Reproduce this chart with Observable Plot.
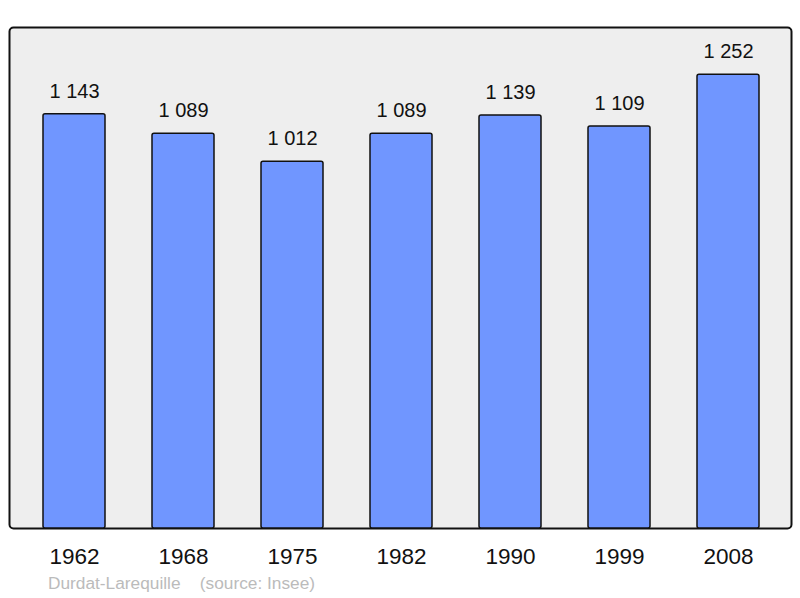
<!DOCTYPE html>
<html>
<head>
<meta charset="utf-8">
<script src="https://cdn.jsdelivr.net/npm/d3@7"></script>
<script src="https://cdn.jsdelivr.net/npm/@observablehq/plot@0.6"></script>
<style>
  body { margin: 0; background: #fff; font-family: "Liberation Sans", Arial, sans-serif; }
  #cap { padding-left: 48px; font-size: 17.3px; color: #bbbbbb; line-height: 22px; white-space: pre; }
</style>
</head>
<body>
<div id="chart"></div>
<div id="cap"></div>
<script>
const years = ["1962", "1968", "1975", "1982", "1990", "1999", "2008"];
const population = [1143, 1089, 1012, 1089, 1139, 1109, 1252];
const captionText = "Durdat-Larequille    (source: Insee)";

const data = years.map((y, i) => ({year: y, pop: population[i]}));
const fmt = d3.formatLocale({thousands: " ", grouping: [3], decimal: ",", currency: ["", ""]}).format(",d");

const chart = Plot.plot({
  width: 800,
  height: 572,
  marginLeft: 9,
  marginRight: 9,
  marginTop: 27,
  marginBottom: 44,
  style: {fontFamily: "Liberation Sans, Arial, sans-serif", background: "#fff"},
  x: {domain: years, range: [16.5, 785.5], paddingInner: 0.43, paddingOuter: 0.215, align: 0.5},
  y: {domain: [0, 1382], range: [528, 27]},
  marks: [
    Plot.frame({fill: "#eeeeee", stroke: "#111", strokeWidth: 2, rx: 4}),
    Plot.barY(data, {x: "year", y: "pop", fill: "#7096ff", stroke: "#111", strokeWidth: 1.5, rx: 2}),
    Plot.text(data, {x: "year", y: "pop", text: d => fmt(d.pop), dy: -23, fontSize: 20, fill: "#111"}),
    Plot.axisX({tickSize: 0, tickPadding: 20, fontSize: 22.5, color: "#111", label: null}),
    Plot.axisY({ticks: [], label: null})
  ]
});
document.getElementById("chart").appendChild(chart);
document.getElementById("cap").textContent = captionText;
</script>
</body>
</html>
